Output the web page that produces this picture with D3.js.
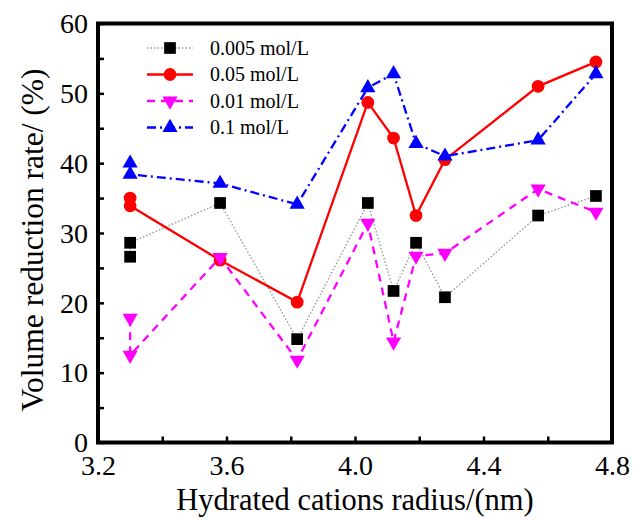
<!DOCTYPE html>
<html>
<head>
<meta charset="utf-8">
<script src="https://cdn.jsdelivr.net/npm/d3@7"></script>
<style>
  body { margin: 0; background: #fff; }
  svg { display: block; }
  svg text { font-family: "Liberation Serif", "Times New Roman", serif !important; }
</style>
</head>
<body>
<svg width="633" height="521"></svg>
<script>
// x positions (hydrated cation radius, nm)
const radius = [3.30, 3.30, 3.58, 3.82, 4.04, 4.12, 4.19, 4.28, 4.57, 4.75];

// values per concentration (two readings at 3.30)
const c0005 = [26.6, 28.6, 34.3, 14.8, 34.3, 21.7, 28.6, 20.8, 32.5, 35.3];
const c005  = [35.0, 33.9, 26.1, 20.1, 48.7, 43.6, 32.5, 40.5, 51.0, 54.5];
const c001  = [17.8, 12.5, 26.5, 11.8, 31.4, 14.4, 26.7, 27.1, 36.3, 33.0];
const c01   = [40.0, 38.4, 37.1, 34.1, 50.8, 52.8, 42.8, 41.0, 43.3, 52.8];

const seriesNames = ['0.005 mol/L', '0.05 mol/L', '0.01 mol/L', '0.1 mol/L'];
const xTicks = [3.2, 3.6, 4.0, 4.4, 4.8];
const yTicks = [0, 10, 20, 30, 40, 50, 60];

const series = [
  { name: seriesNames[0], values: c0005, color: '#000', line: '#999', width: 1.4, dash: '1.5,2', symbol: d3.symbolSquare, size: 137, rot: 0 },
  { name: seriesNames[1], values: c005,  color: '#ff0000', line: '#ff0000', width: 2.3, dash: null, symbol: d3.symbolCircle, size: 128, rot: 0 },
  { name: seriesNames[2], values: c001,  color: '#ff00ff', line: '#ff00ff', width: 2.3, dash: '8,6', symbol: d3.symbolTriangle, size: 100, rot: 180 },
  { name: seriesNames[3], values: c01,   color: '#0000ff', line: '#0000ff', width: 2.3, dash: '9,4,2,4', symbol: d3.symbolTriangle, size: 100, rot: 0 }
];

const svg = d3.select('svg');

const x = d3.scaleLinear().domain([3.2, 4.8]).range([98, 612]);
const y = d3.scaleLinear().domain([0, 60]).range([442.5, 23.5]);

// minor + major ticks, pointing inward
const xAxis = d3.axisBottom(x).tickValues(d3.range(3.2, 4.81, 0.2)).tickSizeInner(-6).tickSizeOuter(0)
  .tickFormat(d => xTicks.some(t => Math.abs(t - d) < 1e-6) ? d.toFixed(1) : '');
const yAxis = d3.axisLeft(y).tickValues(d3.range(0, 61, 5)).tickSizeInner(-6).tickSizeOuter(0)
  .tickFormat(d => yTicks.includes(d) ? d : '');

const gx = svg.append('g').attr('transform', `translate(0,${y(0)})`).call(xAxis);
gx.select('.domain').remove();
gx.selectAll('line').attr('stroke', '#000').attr('stroke-width', 2.5);
gx.selectAll('text').attr('font-size', 28).attr('fill', '#000').attr('dy', 0).attr('y', 32.5);

const gy = svg.append('g').attr('transform', `translate(${x(3.2)},0)`).call(yAxis);
gy.select('.domain').remove();
gy.selectAll('line').attr('stroke', '#000').attr('stroke-width', 2.5);
gy.selectAll('text').attr('font-size', 28).attr('fill', '#000').attr('x', -10).attr('dy', '0.33em');

// frame
svg.append('rect')
  .attr('x', x(3.2)).attr('y', y(60))
  .attr('width', x(4.8) - x(3.2)).attr('height', y(0) - y(60))
  .attr('fill', 'none').attr('stroke', '#000').attr('stroke-width', 4);

const line = d3.line().x((d, i) => x(radius[i])).y(d => y(d));

series.forEach(s => {
  svg.append('path')
    .attr('d', line(s.values))
    .attr('fill', 'none')
    .attr('stroke', s.line)
    .attr('stroke-width', s.width)
    .attr('stroke-dasharray', s.dash);
  svg.selectAll(null).data(s.values).enter().append('path')
    .attr('d', d3.symbol().type(s.symbol).size(s.size))
    .attr('transform', (d, i) => `translate(${x(radius[i])},${y(d)}) rotate(${s.rot})`)
    .attr('fill', s.color);
});

// legend
const legend = svg.append('g').attr('transform', 'translate(147,48)');
series.forEach((s, i) => {
  const g = legend.append('g').attr('transform', `translate(0,${i * 26.5})`);
  g.append('line').attr('x1', 0).attr('x2', 46).attr('y1', 0).attr('y2', 0)
    .attr('stroke', s.line).attr('stroke-width', s.width).attr('stroke-dasharray', s.dash);
  g.append('path').attr('d', d3.symbol().type(s.symbol).size(s.size))
    .attr('transform', `translate(23,0) rotate(${s.rot})`).attr('fill', s.color);
  g.append('text').attr('x', 63).attr('y', 0).attr('dy', '0.33em')
    .attr('font-size', 20).text(s.name);
});

// axis titles
svg.append('text')
  .attr('x', (x(3.2) + x(4.8)) / 2).attr('y', 510)
  .attr('text-anchor', 'middle').attr('font-size', 30.5)
  .text('Hydrated cations radius/(nm)');
svg.append('text')
  .attr('transform', `translate(43,240) rotate(-90)`)
  .attr('text-anchor', 'middle').attr('font-size', 31.5)
  .text('Volume reduction rate/ (%)');
</script>
</body>
</html>
